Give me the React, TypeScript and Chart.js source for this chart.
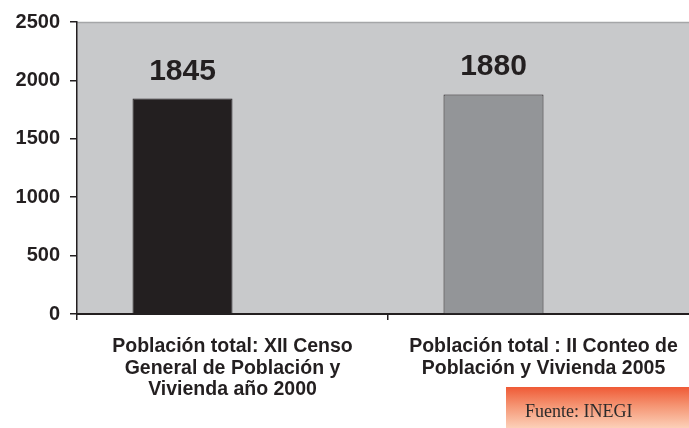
import React, { useEffect, useRef } from "react";
import { Chart, registerables } from "chart.js";

Chart.register(...registerables);

const categories: string[][] = [
  ["Población total: XII Censo", "General de Población y", "Vivienda año 2000"],
  ["Población total : II Conteo de", "Población y Vivienda 2005"],
];
const poblacion: number[] = [1845, 1880];
const emptySeries: (number | null)[] = [null, null];
const barColors: string[] = ["#231f20", "#939598"];
const yTicks: number[] = [0, 500, 1000, 1500, 2000, 2500];
const sourceNote = "Fuente: INEGI";

const FONT = '"Liberation Sans", Arial, Helvetica, sans-serif';

const plotBg = {
  id: "plotBg",
  beforeDraw(chart: any) {
    const { ctx, chartArea } = chart;
    ctx.save();
    ctx.fillStyle = "#c8c9cb";
    ctx.fillRect(chartArea.left, chartArea.top, chartArea.right - chartArea.left, chartArea.bottom - chartArea.top);
    ctx.strokeStyle = "#a5a6a8";
    ctx.lineWidth = 1.5;
    ctx.beginPath();
    ctx.moveTo(chartArea.left, chartArea.top + 0.5);
    ctx.lineTo(chartArea.right, chartArea.top + 0.5);
    ctx.stroke();
    ctx.restore();
  },
};

const sourceBox = {
  id: "sourceBox",
  afterDraw(chart: any) {
    const { ctx } = chart;
    const x = 506, y = 387, w = 193, h = 41;
    ctx.save();
    const g = ctx.createLinearGradient(0, y, 0, y + h);
    g.addColorStop(0, "#ef5a36");
    g.addColorStop(0.45, "#f59472");
    g.addColorStop(1, "#fcd0b8");
    ctx.fillStyle = g;
    ctx.fillRect(x, y, w, h);
    ctx.fillStyle = "#2b2b2b";
    ctx.font = '18px "Liberation Serif", "Times New Roman", serif';
    ctx.textAlign = "left";
    ctx.textBaseline = "alphabetic";
    ctx.fillText(sourceNote, x + 19, y + 30);
    ctx.restore();
  },
};

const valueLabels = {
  id: "valueLabels",
  afterDatasetsDraw(chart: any) {
    const { ctx } = chart;
    const meta = chart.getDatasetMeta(0);
    ctx.save();
    ctx.font = `bold 30px ${FONT}`;
    ctx.fillStyle = "#231f20";
    ctx.textAlign = "center";
    ctx.textBaseline = "alphabetic";
    meta.data.forEach((el: any, i: number) => {
      const v = poblacion[i];
      ctx.fillText(String(v), el.x, el.y - 19);
    });
    ctx.restore();
  },
};

export default function App() {
  const ref = useRef<HTMLCanvasElement | null>(null);
  useEffect(() => {
    if (!ref.current) return;
    const chart = new Chart(ref.current, {
      type: "bar",
      data: {
        labels: categories as any,
        datasets: [
          {
            data: poblacion,
            backgroundColor: barColors,
            borderColor: "#231f20",
            borderWidth: 1,
            categoryPercentage: 0.643,
            barPercentage: 1,
          },
          {
            data: emptySeries as any,
            backgroundColor: "rgba(0,0,0,0)",
            categoryPercentage: 0.643,
            barPercentage: 1,
          },
        ],
      },
      options: {
        animation: false,
        responsive: false,
        maintainAspectRatio: false,
        layout: { padding: { top: 20, left: 0, right: 0, bottom: 0 } },
        plugins: {
          legend: { display: false },
          tooltip: { enabled: false },
        },
        scales: {
          y: {
            min: 0,
            max: 2500,
            afterBuildTicks: (scale: any) => {
              scale.ticks = yTicks.map((v) => ({ value: v }));
            },
            ticks: {
              font: { family: FONT, size: 20, weight: "bold" },
              color: "#231f20",
              padding: 10,
              callback: (v: any) => String(v),
            },
            grid: {
              drawOnChartArea: false,
              drawTicks: true,
              tickLength: 7,
              color: "#231f20",
              lineWidth: 1.5,
            },
            border: { display: true, color: "#231f20", width: 1.5 },
            afterFit: (scale: any) => {
              scale.width = 77;
            },
          },
          x: {
            offset: true,
            ticks: {
              font: { family: FONT, size: 19.5, weight: "bold", lineHeight: 1.1 },
              color: "#231f20",
              padding: 16,
              maxRotation: 0,
              autoSkip: false,
            },
            grid: {
              offset: true,
              drawOnChartArea: false,
              drawTicks: true,
              tickLength: 6,
              color: "#231f20",
              lineWidth: 1.5,
            },
            border: { display: true, color: "#231f20", width: 2 },
            afterFit: (scale: any) => {
              scale.height = 428 - 314;
            },
          },
        },
      },
      plugins: [plotBg, valueLabels, sourceBox],
    });
    return () => chart.destroy();
  }, []);

  return (
    <div style={{ position: "absolute", left: 0, top: 0, width: 689, height: 428, overflow: "hidden", background: "#ffffff" }}>
      <canvas ref={ref} width={699} height={428} style={{ width: 699, height: 428, display: "block" }} />
    </div>
  );
}
